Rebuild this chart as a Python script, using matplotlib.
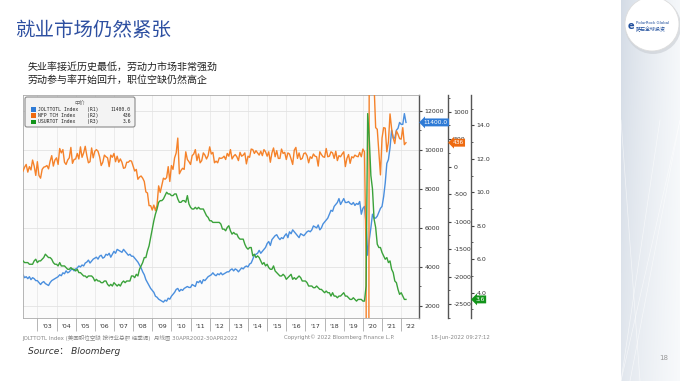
# coding:utf-8
import numpy as np
import matplotlib
matplotlib.use("Agg")
import matplotlib.pyplot as plt
from matplotlib import patches, transforms
from matplotlib.ticker import MultipleLocator, FixedLocator, FixedFormatter, NullFormatter, FormatStrFormatter

plt.rcParams['font.family'] = ['DejaVu Sans', 'Noto Sans CJK SC']
plt.rcParams['axes.unicode_minus'] = False

# 月度数据, 2002年4月 - 2022年4月
# JOLTTOTL 职位空缺 (千)
jolts = [
    3600, 3450, 3500, 3400, 3500, 3350, 3450, 3400, 3300,
    3300, 3200, 3100, 3200, 3250, 3150, 3100, 3050, 3200, 3300, 3350, 3400,
    3450, 3500, 3600, 3550, 3700, 3650, 3800, 3700, 3750, 3850, 3900, 3800,
    3900, 3950, 4050, 4000, 4100, 4050, 4200, 4250, 4350, 4200, 4300, 4400,
    4450, 4500, 4400, 4550, 4600, 4450, 4500, 4650, 4600, 4700, 4500, 4650,
    4800, 4700, 4900, 4850, 4800, 4750, 4900, 4800, 4700, 4600, 4650, 4550,
    4550, 4450, 4350, 4250, 4100, 3950, 3750, 3600, 3350, 3200, 3050, 2900,
    2800, 2700, 2500, 2450, 2350, 2300, 2250, 2200, 2300, 2250, 2400, 2350,
    2500, 2600, 2700, 2850, 2900, 2750, 2850, 2800, 2900, 2950, 3000, 2950,
    2950, 3100, 3050, 3000, 3250, 3200, 3300, 3150, 3350, 3300, 3400, 3500,
    3550, 3600, 3700, 3600, 3550, 3650, 3600, 3700, 3600, 3650, 3700, 3750,
    3750, 3850, 3900, 3800, 3900, 3850, 3750, 3850, 3950, 3900, 4000, 4050,
    4000, 4150, 4200, 4400, 4600, 4650, 4700, 4850, 4700, 4800, 4900, 5000,
    5200, 5300, 5100, 5400, 5500, 5600, 5650, 5500, 5400, 5500, 5450, 5600,
    5700, 5500, 5800, 5700, 5900, 5800, 5700, 5600, 5500, 5700, 5650, 5600,
    5700, 5800, 5850, 5800, 5900, 6100, 6050, 6000, 6150, 5900, 6000, 6200,
    6300, 6400, 6500, 6700, 6900, 6850, 7100, 7200, 7300, 7500, 7200, 7350,
    7500, 7300, 7300, 7350, 7250, 7200, 7300, 7150, 7250, 7200, 7350, 6700,
    7000, 7100, 6200, 4600, 5400, 6000, 6700, 6500, 6500, 6600, 6800, 7000,
    7100, 7600, 8300, 9300, 9500, 10100, 11000, 10600, 10600, 11000, 11100, 11400,
    11300, 11300, 11850, 11400,
]

# NFP TCH 非农就业变化 (千)
nfp = [
    -80, -10, 40, -100, 0, -60, 120, 10, -160,
    90, -160, -210, -50, -10, 0, 20, -40, 100, 200, 10, 120,
    160, 40, 330, 250, 310, 80, 40, 120, 160, 350, 60, 130,
    140, 240, 140, 360, 170, 250, 370, 200, 70, 90, 340, 160,
    280, 310, 280, 180, 20, 80, 210, 180, 160, 0, 210, 170,
    240, 90, 190, 80, 140, 80, -30, -20, 80, 80, 110, 100,
    10, -80, -50, -230, -190, -170, -210, -270, -460, -480, -710, -710,
    -790, -700, -800, -700, -350, -470, -340, -210, -230, -200, 0, -270,
    20, -50, 160, 250, 520, -130, -70, -30, -50, 270, 130, 90,
    40, 200, 230, 310, 110, 230, 70, 110, 250, 210, 140, 200,
    360, 230, 260, 70, 100, 70, 160, 150, 160, 190, 130, 240,
    190, 310, 140, 190, 220, 180, 110, 260, 190, 210, 250, 50,
    190, 170, 320, 310, 240, 290, 250, 210, 280, 200, 310, 270,
    190, 270, 80, 250, 340, 180, 290, 150, 150, 320, 240, 260,
    130, 250, 230, 140, 40, 300, 350, 150, 250, 130, 150, 240,
    250, 200, 70, 180, 150, 230, 190, 180, 10, 270, 220, 180,
    170, 330, 180, 190, 270, 250, 150, 280, 110, 200, 180, 230,
    270, 1, 150, 220, 60, 180, 160, 210, 190, 180, 260, 180,
    320, 270, -1680, -20540, 2830, 4850, 1730, 1490, 710, 680, 260, -150,
    520, 710, 700, 270, 450, 960, 690, 520, 420, 650, 590, 510,
    500, 710, 400, 436,
]

# USURTOT 失业率 (%)
urate = [
    5.9, 5.8, 5.8, 5.8, 5.7, 5.7, 5.7, 5.9, 6.0,
    5.8, 5.9, 5.9, 6.0, 6.1, 6.3, 6.2, 6.1, 6.1, 6.0, 5.8, 5.7,
    5.7, 5.6, 5.8, 5.6, 5.6, 5.6, 5.5, 5.4, 5.4, 5.5, 5.4, 5.4,
    5.3, 5.4, 5.2, 5.2, 5.1, 5.0, 5.0, 4.9, 5.0, 5.0, 5.0, 4.9,
    4.7, 4.8, 4.7, 4.7, 4.6, 4.6, 4.7, 4.7, 4.5, 4.4, 4.5, 4.4,
    4.6, 4.5, 4.4, 4.5, 4.4, 4.6, 4.7, 4.6, 4.7, 4.7, 4.7, 5.0,
    5.0, 4.9, 5.1, 5.0, 5.4, 5.6, 5.8, 6.1, 6.1, 6.5, 6.8, 7.3,
    7.8, 8.3, 8.7, 9.0, 9.4, 9.5, 9.5, 9.6, 9.8, 10.0, 9.9, 9.9,
    9.8, 9.8, 9.9, 9.9, 9.6, 9.4, 9.4, 9.5, 9.5, 9.4, 9.8, 9.3,
    9.1, 9.0, 9.0, 9.1, 9.0, 9.1, 9.0, 9.0, 9.0, 8.8, 8.6, 8.5,
    8.3, 8.3, 8.2, 8.2, 8.2, 8.2, 8.2, 8.1, 7.8, 7.8, 7.7, 7.9,
    8.0, 7.7, 7.5, 7.6, 7.5, 7.5, 7.3, 7.2, 7.2, 7.2, 6.9, 6.7,
    6.6, 6.7, 6.7, 6.2, 6.3, 6.1, 6.2, 6.1, 5.9, 5.7, 5.8, 5.6,
    5.7, 5.5, 5.4, 5.4, 5.6, 5.3, 5.2, 5.1, 5.0, 5.0, 5.1, 5.0,
    4.8, 4.9, 5.0, 5.1, 4.8, 4.9, 4.8, 4.9, 5.0, 4.9, 4.7, 4.7,
    4.7, 4.6, 4.4, 4.4, 4.4, 4.3, 4.3, 4.4, 4.3, 4.2, 4.2, 4.1,
    4.0, 4.1, 4.0, 4.0, 3.8, 4.0, 3.8, 3.8, 3.7, 3.8, 3.8, 3.9,
    4.0, 3.8, 3.8, 3.7, 3.6, 3.6, 3.7, 3.6, 3.5, 3.6, 3.6, 3.6,
    3.5, 3.5, 4.4, 14.7, 13.2, 11.0, 10.2, 8.4, 7.9, 6.9, 6.7, 6.7,
    6.4, 6.2, 6.0, 6.1, 5.8, 5.9, 5.4, 5.2, 4.7, 4.6, 4.2, 3.9,
    4.0, 3.8, 3.6, 3.6,
]

years = list(range(2003, 2023))
year_labels = ["'%02d" % (y % 100) for y in years]

legend_names = ["JOLTTOTL Index", "NFP TCH Index", "USURTOT Index"]
legend_axes = ["(R1)", "(R2)", "(R3)"]
last_labels = ["11400.0", "436", "3.6"]
line_colors = ["#4a8fde", "#f5822a", "#3aa23a"]
box_colors = ["#2f7bd6", "#ee6a10", "#12941a"]

x = 2002 + 3 / 12 + np.arange(len(jolts)) / 12

W, H = 680, 381
fig = plt.figure(figsize=(6.8, 3.81), dpi=100)

# 背景层: 像素坐标
bg = fig.add_axes([0, 0, 1, 1], zorder=0)
bg.set_xlim(0, W)
bg.set_ylim(H, 0)
bg.axis('off')

# 右侧装饰条
t = np.linspace(0, 1, 60) ** 0.8
v = np.linspace(0, 1, 120)[:, None]
c_left = np.array([0.83, 0.86, 0.90])
c_right = np.array([0.96, 0.97, 0.98])
img = c_left[None, None, :] * (1 - t[None, :, None]) + c_right[None, None, :] * t[None, :, None]
img = img * (1 - 0.3 * v[..., None]) + 0.3 * v[..., None]
bg.imshow(img, extent=(621, 680, 381, 0), aspect='auto', zorder=1)
for x0, x1 in [(621, 680), (630, 680), (621, 660), (640, 621)]:
    bg.plot([x0, x1], [381, 120], color='white', lw=0.5, alpha=0.6, zorder=2)
bg.add_patch(patches.Circle((653, 26), 28, fc='#c8ccd2', ec='none', alpha=0.6, zorder=3))
bg.add_patch(patches.Circle((652, 24), 27, fc='white', ec='#dddddd', lw=0.6, zorder=4))
bg.text(631, 26, "e", fontsize=7, color='#1f4e9c', fontweight='bold', ha='center', va='center', zorder=5)
bg.text(636, 23.5, "PolarRock Global", fontsize=2.8, color='#1f4e9c', va='center', zorder=5)
bg.text(636, 29, "路石全球投资", fontsize=3.6, color='#1f4e9c', va='center', zorder=5)

# 标题 / 副标题
bg.text(15, 30, "就业市场仍然紧张", fontsize=14, color='#2d4fa1', va='center',
        family=['Noto Sans CJK SC', 'DejaVu Sans'])
bg.text(28, 67, "失业率接近历史最低，劳动力市场非常强劲", fontsize=7.2, color='#222222', va='center',
        family=['Noto Sans CJK SC', 'DejaVu Sans'])
bg.text(28, 79.5, "劳动参与率开始回升，职位空缺仍然高企", fontsize=7.2, color='#222222', va='center',
        family=['Noto Sans CJK SC', 'DejaVu Sans'])
bg.text(28, 352, "Source： Bloomberg", fontsize=6.5, style='italic', color='#333333', va='center',
        family=['DejaVu Sans', 'Noto Sans CJK SC'])
bg.text(664, 358, "18", fontsize=5, color='#999999', ha='center', va='center')

# 主图
ax1 = fig.add_axes([23 / W, 1 - 318 / H, 396 / W, 223 / H], zorder=2)
ax1.set_facecolor('#fbfbfb')
ax2 = ax1.twinx()
ax3 = ax1.twinx()
ax1.yaxis.tick_right()

ax1.plot(x, jolts, color=line_colors[0], lw=1.0)
ax2.plot(x, nfp, color=line_colors[1], lw=1.0)
ax3.plot(x, urate, color=line_colors[2], lw=1.0)

ax1.set_xlim(x[0], 2022.93)
ax1.set_ylim(1386, 12804)
ax2.set_ylim(-2755, 1304)
ax3.set_ylim(2.49, 15.81)

ax1.xaxis.set_major_locator(FixedLocator(years))
ax1.xaxis.set_major_formatter(NullFormatter())
ax1.xaxis.set_minor_locator(FixedLocator([y + 0.5 for y in years]))
ax1.xaxis.set_minor_formatter(FixedFormatter(year_labels))
ax1.tick_params(axis='x', which='major', length=9.5, width=0.6, color='#aaaaaa', direction='out')
ax1.tick_params(axis='x', which='minor', length=0, pad=4.5, labelsize=4.5, labelcolor='#333333')

ax1.yaxis.set_major_locator(MultipleLocator(2000))
ax1.yaxis.set_minor_locator(MultipleLocator(1000))
ax2.yaxis.set_major_locator(MultipleLocator(500))
ax2.yaxis.set_minor_locator(MultipleLocator(250))
ax3.yaxis.set_major_locator(MultipleLocator(2))
ax3.yaxis.set_minor_locator(MultipleLocator(1))
ax3.yaxis.set_major_formatter(FormatStrFormatter('%.1f'))

ax1.grid(axis='y', which='major', color='#e2e2e2', lw=0.6)
ax1.grid(axis='x', which='major', color='#e8e8e8', lw=0.6)

spine_pos = [1.0, 1 + 29 / 396, 1 + 52 / 396]
for a in (ax2, ax3):
    for s in ('left', 'top', 'bottom'):
        a.spines[s].set_visible(False)
ax2.spines['right'].set_position(('axes', spine_pos[1]))
ax3.spines['right'].set_position(('axes', spine_pos[2]))
for s in ('left', 'top', 'bottom'):
    ax1.spines[s].set_color('#aaaaaa')
    ax1.spines[s].set_linewidth(0.6)
for a in (ax1, ax2, ax3):
    a.spines['right'].set_color('#555555')
    a.spines['right'].set_linewidth(1.0)
    a.tick_params(axis='y', which='major', length=2.5, width=0.8, color='#444444',
                  labelsize=4.5, labelcolor='#333333', pad=1.5, direction='out')
    a.tick_params(axis='y', which='minor', length=1.5, width=0.6, color='#444444', direction='out')

# 右侧最新值标签 (画在最上层的 ax3 上)
for a, pos, val, lab, col in zip((ax1, ax2, ax3), spine_pos, (jolts[-1], nfp[-1], urate[-1]),
                                 last_labels, box_colors):
    tr = transforms.blended_transform_factory(ax3.transAxes, a.transData)
    ax3.annotate(lab, xy=(pos, val), xycoords=tr, xytext=(3.2, 0), textcoords='offset points',
                 ha='left', va='center', fontsize=4.2, color='white', annotation_clip=False,
                 bbox=dict(boxstyle='larrow,pad=0.25', fc=col, ec='none'), zorder=10)

# 覆盖层: 图例和图表脚注
ov = fig.add_axes([0, 0, 1, 1], zorder=6, facecolor='none')
ov.set_xlim(0, W)
ov.set_ylim(H, 0)
ov.axis('off')
ov.add_patch(patches.FancyBboxPatch((25, 97), 110, 30, boxstyle='round,pad=0,rounding_size=2',
                                    fc='#f3f3f3', ec='#8a8a8a', lw=0.8))
ov.text(80, 103.5, "中价", fontsize=3.8, color='#666666', ha='center', va='center',
        family=['Noto Sans CJK SC', 'DejaVu Sans'])
for i, (nm, ra, lab, col) in enumerate(zip(legend_names, legend_axes, last_labels, box_colors)):
    yy = 109.5 + i * 6.2
    ov.add_patch(patches.Rectangle((30.5, yy - 2.3), 5, 4.6, fc=col, ec='none'))
    ov.text(38.5, yy, nm, fontsize=3.4, family='DejaVu Sans Mono', color='#222222', va='center')
    ov.text(87, yy, ra, fontsize=3.4, family='DejaVu Sans Mono', color='#222222', va='center')
    ov.text(131, yy, lab, fontsize=3.4, family='DejaVu Sans Mono', color='#222222', va='center', ha='right')

ov.text(22, 337.5, "JOLTTOTL Index (美国职位空缺 按行业总额 经季调)  月线图 30APR2002-30APR2022",
        fontsize=4.0, color='#888888', va='center', family=['DejaVu Sans', 'Noto Sans CJK SC'])
ov.text(339, 337.5, "Copyright© 2022 Bloomberg Finance L.P.", fontsize=3.9, color='#888888',
        va='center', ha='center')
ov.text(490, 337.5, "18-Jun-2022 09:27:12", fontsize=3.9, color='#888888', va='center', ha='right')

fig.savefig("out.png", dpi=100)
